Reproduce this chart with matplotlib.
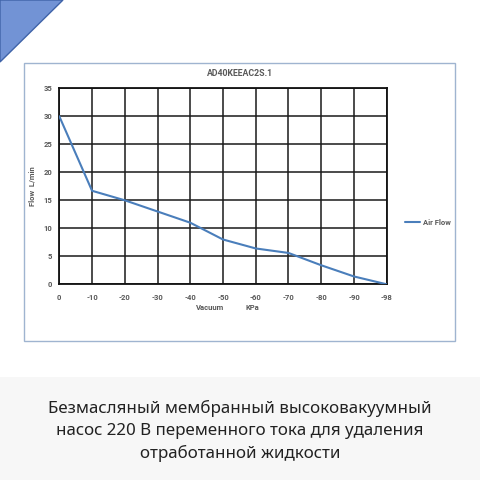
import numpy as np
import matplotlib
matplotlib.use("Agg")
import matplotlib.pyplot as plt
from matplotlib.patches import Polygon, Rectangle

# Data
vacuum_labels = ['0', '-10', '-20', '-30', '-40', '-50', '-60', '-70', '-80', '-90', '-98']
flow_values = [30, 16.7, 15, 13, 11, 8, 6.4, 5.6, 3.4, 1.4, 0]
y_ticks = [0, 5, 10, 15, 20, 25, 30, 35]

chart_title = 'AD40KEEAC2S.1'
series_name = 'Air Flow'
caption = ('Безмасляный мембранный высоковакуумный\n'
           'насос 220 В переменного тока для удаления\n'
           'отработанной жидкости')

W = H = 480.0
txt_gray = '#595959'
line_blue = '#4a7ebb'
chart_font = ['Roboto', 'DejaVu Sans']

fig = plt.figure(figsize=(4.8, 4.8), dpi=100)
fig.patch.set_facecolor('white')

# grey caption band at the bottom
fig.patches.append(Rectangle((0, 0), 1, 1 - 377 / H, transform=fig.transFigure,
                             facecolor='#f7f7f7', edgecolor='none', zorder=0))

# blue corner triangle
fig.patches.append(Polygon([[0, 1], [63 / W, 1], [0, 1 - 62 / H]], closed=True,
                           transform=fig.transFigure, facecolor='#7293d5',
                           edgecolor='#3f63a8', linewidth=1.0, zorder=1))

# chart frame
fig.patches.append(Rectangle((24 / W, 1 - 341 / H), (455 - 24) / W, (341 - 63) / H,
                             transform=fig.transFigure, facecolor='white',
                             edgecolor='#9fb4d0', linewidth=1.0, zorder=1))

left, right = 59.3 / W, 386.7 / W
bottom, top = 1 - 284.3 / H, 1 - 88.3 / H
ax = fig.add_axes([left, bottom, right - left, top - bottom])
ax.set_facecolor('none')
ax.set_zorder(3)

ax.plot(vacuum_labels, flow_values, color=line_blue, linewidth=1.5,
        label=series_name, zorder=4, solid_capstyle='round')

ax.set_xlim(0, len(vacuum_labels) - 1)
ax.set_ylim(min(y_ticks), max(y_ticks))
ax.set_yticks(y_ticks)
ax.grid(True, color='#1a1a1a', linewidth=1.1)
ax.set_axisbelow(True)
for s in ax.spines.values():
    s.set_color('#111111')
    s.set_linewidth(1.3)
ax.tick_params(axis='y', length=0, pad=5, labelsize=5.5, labelcolor=txt_gray)
ax.tick_params(axis='x', length=0, pad=7, labelsize=5.5, labelcolor=txt_gray)
for lab in ax.get_xticklabels() + ax.get_yticklabels():
    lab.set_fontweight('bold')
    lab.set_family(chart_font)

ax.set_ylabel('Flow  L/min', fontsize=5.5, fontweight='bold', color=txt_gray,
              labelpad=6, family=chart_font)

# x-axis label words sit apart in the reference
fig.text(210.5 / W, 1 - 307 / H, 'Vacuum', ha='center', va='center', fontsize=5.5,
         fontweight='bold', color=txt_gray, family=chart_font)
fig.text(252.5 / W, 1 - 307 / H, 'KPa', ha='center', va='center', fontsize=5.5,
         fontweight='bold', color=txt_gray, family=chart_font)

fig.text(240 / W, 1 - 73 / H, chart_title, ha='center', va='center',
         fontsize=6.3, fontweight='bold', color=txt_gray, family=chart_font)

leg = ax.legend(loc='center left', bbox_to_anchor=(1.035, 0.315), frameon=False,
                prop={'family': chart_font, 'size': 5.5, 'weight': 'bold'},
                handlelength=2.0, handletextpad=0.35)
for t in leg.get_texts():
    t.set_color(txt_gray)

fig.text(0.5, 1 - 431 / H, caption, ha='center', va='center', fontsize=12.2,
         family=['Noto Sans', 'DejaVu Sans'], color='#222222', linespacing=1.5)

fig.savefig('out.png', dpi=100)
